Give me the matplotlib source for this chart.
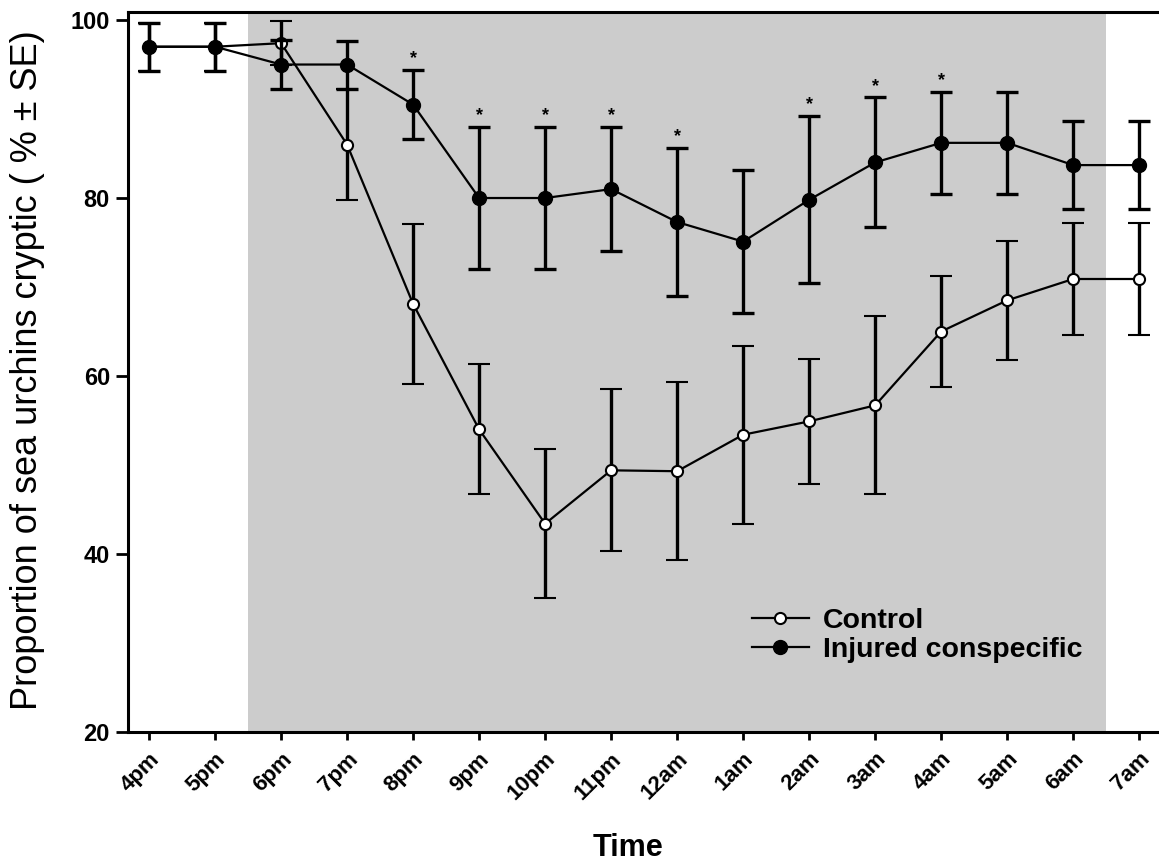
import matplotlib
matplotlib.use("Agg")
from matplotlib import pyplot as plt

times = ['4pm', '5pm', '6pm', '7pm', '8pm', '9pm', '10pm', '11pm', '12am',
         '1am', '2am', '3am', '4am', '5am', '6am', '7am']

control = [97, 97, 97.4, 86, 68.1, 54, 43.4, 49.4, 49.3, 53.4, 54.9, 56.7,
           65, 68.5, 70.9, 70.9]
control_se = [2.7, 2.7, 2.5, 6.2, 9, 7.3, 8.4, 9.1, 10, 10, 7, 10,
              6.2, 6.7, 6.3, 6.3]

injured = [97, 97, 95, 95, 90.5, 80, 80, 81, 77.3, 75.1, 79.8, 84,
           86.2, 86.2, 83.7, 83.7]
injured_se = [2.7, 2.7, 2.8, 2.7, 3.9, 8, 8, 7, 8.3, 8, 9.4, 7.3,
              5.7, 5.7, 4.9, 4.9]

signif = [False, False, False, False, True, True, True, True, True, False,
          True, True, True, False, False, False]

plt.rcParams['font.family'] = ['Liberation Sans', 'DejaVu Sans']

fig = plt.figure(figsize=(11.59, 8.65), dpi=100)
ax = fig.add_axes([0.1104, 0.1538, 0.8896, 0.8323])

x = list(range(len(times)))

# night period
ax.axvspan(1.5, 14.5, color='#cccccc', zorder=0, lw=0)

ax.errorbar(x, control, yerr=control_se, color='black', lw=1.6,
            elinewidth=2.4, capsize=8, capthick=2.4,
            marker='o', ms=8, mfc='white', mec='black', mew=1.5,
            label='Control', zorder=3)
ax.errorbar(x, injured, yerr=injured_se, color='black', lw=1.6,
            elinewidth=2.4, capsize=8, capthick=2.4,
            marker='o', ms=10, mfc='black', mec='black',
            label='Injured conspecific', zorder=4)

for i, s in enumerate(signif):
    if s:
        ax.text(i, injured[i] + injured_se[i] + 0.3, '*', ha='center',
                va='bottom', fontsize=13, fontweight='bold')

ax.set_xlim(-0.32, 15.3)
ax.set_ylim(20, 100.9)
ax.set_yticks([20, 40, 60, 80, 100])
ax.set_xticks(x)
ax.set_xticklabels(times, rotation=45, ha='right', rotation_mode='anchor',
                   fontsize=16, fontweight='bold')
for lab in ax.get_yticklabels():
    lab.set_fontsize(17)
    lab.set_fontweight('bold')

ax.spines['right'].set_visible(False)
for s in ['left', 'bottom', 'top']:
    ax.spines[s].set_linewidth(2.2)
ax.tick_params(axis='y', direction='out', length=9, width=2, pad=4)
ax.tick_params(axis='x', direction='out', length=6, width=2, pad=6)

ax.set_xlabel('Time', fontsize=22, fontweight='bold')
ax.xaxis.set_label_coords(0.485, -0.14)
ax.set_ylabel('Proportion of sea urchins cryptic ( % \u00b1 SE)', fontsize=26)
ax.yaxis.set_label_coords(-0.08, 0.503)

handles, labels = ax.get_legend_handles_labels()
handles = [h[0] for h in handles]
leg = ax.legend(handles, labels, loc='lower left',
                bbox_to_anchor=(0.58, 0.06), frameon=False,
                prop={'size': 20.5, 'weight': 'bold'}, handlelength=2.0,
                handletextpad=0.5, labelspacing=0.1)

fig.savefig('out.png', dpi=100)
